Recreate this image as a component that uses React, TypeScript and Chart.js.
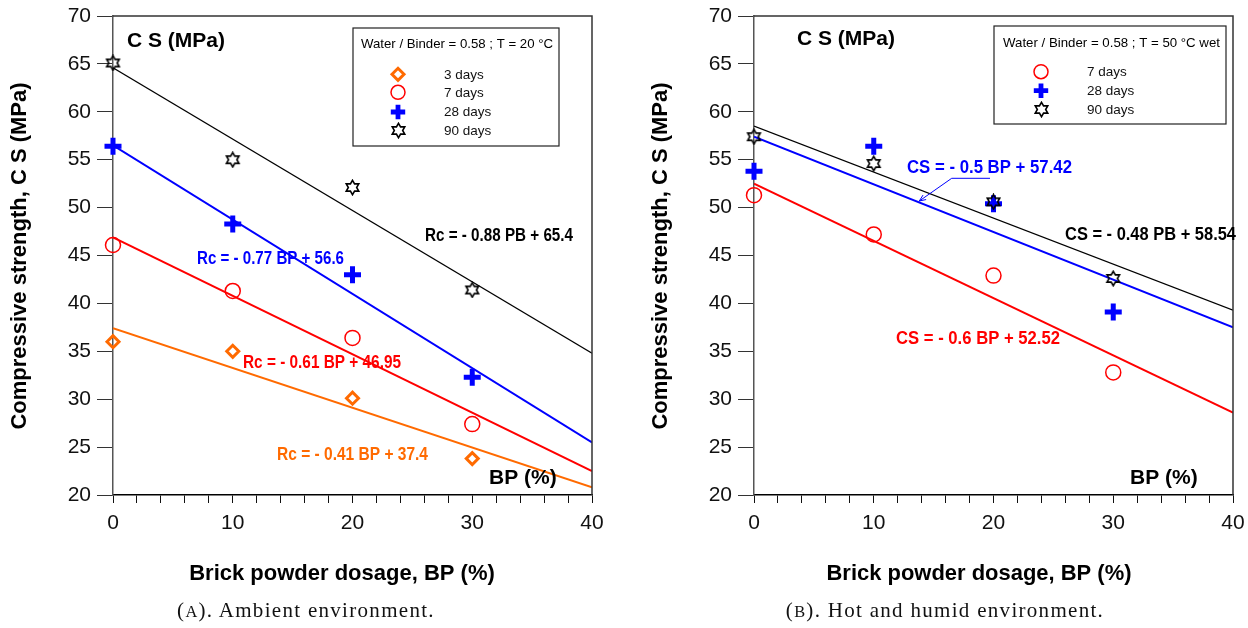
import React, { useEffect, useRef } from 'react';
import { Chart, registerables } from 'chart.js';

Chart.register(...registerables);

// ---------- data ----------
const bpDosage = [0, 10, 20, 30];
const fitX = [0, 40];
const xTickLabels = [0, 10, 20, 30, 40];
const yRange = [20, 70];

const ambient3Days = [36.0, 35.0, 30.1, 23.8];
const ambient7Days = [46.1, 41.3, 36.4, 27.4];
const ambient28Days = [56.4, 48.3, 43.0, 32.3];
const ambient90Days = [65.1, 55.0, 52.1, 41.4];
const ambientFit3 = [37.4, 20.8];
const ambientFit7 = [46.9, 22.5];
const ambientFit28 = [56.5, 25.5];
const ambientFit90 = [64.6, 34.8];

const hot7Days = [51.3, 47.2, 42.9, 32.8];
const hot28Days = [53.8, 56.4, 50.4, 39.1];
const hot90Days = [57.4, 54.6, 50.6, 42.6];
const hotFit7 = [52.5, 28.6];
const hotFit28 = [57.4, 37.5];
const hotFit90 = [58.5, 39.3];

// ---------- styles ----------
const ORANGE = '#ff6a00';
const RED = '#ff0000';
const BLUE = '#0000ff';
const BLACK = '#000000';
const FONT = '"Liberation Sans", Arial, sans-serif';

function makeHexagram(): HTMLCanvasElement {
  const c = document.createElement('canvas');
  c.width = 17;
  c.height = 17;
  const ctx = c.getContext('2d')!;
  const cx = 8.5, cy = 8.5, R = 7.2, r = 7.2 / Math.sqrt(3);
  ctx.beginPath();
  for (let k = 0; k < 12; k++) {
    const ang = (-90 + k * 30) * Math.PI / 180;
    const rad = k % 2 === 0 ? R : r;
    const px = cx + rad * Math.cos(ang);
    const py = cy + rad * Math.sin(ang);
    if (k === 0) ctx.moveTo(px, py); else ctx.lineTo(px, py);
  }
  ctx.closePath();
  ctx.strokeStyle = BLACK;
  ctx.lineWidth = 1.6;
  ctx.lineJoin = 'miter';
  ctx.stroke();
  return c;
}

type MarkerKind = 'diamond' | 'circle' | 'plus' | 'star';

function markerStyle(kind: MarkerKind, star: HTMLCanvasElement) {
  switch (kind) {
    case 'diamond':
      return { pointStyle: 'rectRot', pointRadius: 6, pointBorderWidth: 3, pointBorderColor: ORANGE, pointBackgroundColor: 'rgba(0,0,0,0)' };
    case 'circle':
      return { pointStyle: 'circle', pointRadius: 7.5, pointBorderWidth: 1.5, pointBorderColor: RED, pointBackgroundColor: 'rgba(0,0,0,0)' };
    case 'plus':
      return { pointStyle: 'cross', pointRadius: 8.5, pointBorderWidth: 5, pointBorderColor: BLUE, pointBackgroundColor: BLUE };
    default:
      return { pointStyle: star, pointRadius: 8, pointBorderWidth: 1, pointBorderColor: BLACK, pointBackgroundColor: 'rgba(0,0,0,0)' };
  }
}

function drawMarker(ctx: CanvasRenderingContext2D, kind: MarkerKind, x: number, y: number, star: HTMLCanvasElement) {
  ctx.save();
  if (kind === 'diamond') {
    const r = 6;
    ctx.beginPath();
    ctx.moveTo(x - r, y); ctx.lineTo(x, y - r); ctx.lineTo(x + r, y); ctx.lineTo(x, y + r); ctx.closePath();
    ctx.strokeStyle = ORANGE; ctx.lineWidth = 3; ctx.stroke();
  } else if (kind === 'circle') {
    ctx.beginPath(); ctx.arc(x, y, 7, 0, Math.PI * 2);
    ctx.strokeStyle = RED; ctx.lineWidth = 1.5; ctx.stroke();
  } else if (kind === 'plus') {
    const r = 7.2;
    ctx.beginPath();
    ctx.moveTo(x - r, y); ctx.lineTo(x + r, y); ctx.moveTo(x, y - r); ctx.lineTo(x, y + r);
    ctx.strokeStyle = BLUE; ctx.lineWidth = 4.8; ctx.stroke();
  } else {
    ctx.drawImage(star, Math.round(x - star.width / 2), Math.round(y - star.height / 2));
  }
  ctx.restore();
}

type TextItem = { text: string; x: number; y: number; size: number; color: string; maxW: number; align?: CanvasTextAlign; bold?: boolean };
type Series = { label: string; kind: MarkerKind; values: number[] };
type Fit = { color: string; width: number; values: number[] };
type PanelSpec = {
  offsetX: number;
  yAxisWidth: number;
  padRight: number;
  series: Series[];
  fits: Fit[];
  texts: TextItem[];
  yTitle: { text: string; x: number; y: number; maxW: number };
  legend: {
    box: [number, number, number, number];
    title: TextItem;
    markerX: number;
    textX: number;
    markerY: number[];
    baseY: number[];
  };
  arrow?: number[][];
};

const panelA: PanelSpec = {
  offsetX: 0,
  yAxisWidth: 113,
  padRight: 32,
  series: [
    { label: '90 days', kind: 'star', values: ambient90Days },
    { label: '28 days', kind: 'plus', values: ambient28Days },
    { label: '7 days', kind: 'circle', values: ambient7Days },
    { label: '3 days', kind: 'diamond', values: ambient3Days },
  ],
  fits: [
    { color: BLACK, width: 1.2, values: ambientFit90 },
    { color: BLUE, width: 2, values: ambientFit28 },
    { color: RED, width: 2, values: ambientFit7 },
    { color: ORANGE, width: 2, values: ambientFit3 },
  ],
  texts: [
    { text: 'C S (MPa)', x: 127, y: 46.5, size: 21, color: BLACK, maxW: 101, bold: true },
    { text: 'BP (%)', x: 489, y: 484, size: 21, color: BLACK, maxW: 70, bold: true },
    { text: 'Rc = - 0.88 PB + 65.4', x: 425, y: 241, size: 17.5, color: BLACK, maxW: 148, bold: true },
    { text: 'Rc = - 0.77 BP + 56.6', x: 197, y: 264, size: 17.5, color: BLUE, maxW: 147, bold: true },
    { text: 'Rc = - 0.61 BP + 46.95', x: 243, y: 368, size: 17.5, color: RED, maxW: 158, bold: true },
    { text: 'Rc = - 0.41 BP + 37.4', x: 277, y: 460, size: 17.5, color: ORANGE, maxW: 151, bold: true },
    { text: 'Brick powder dosage, BP (%)', x: 342, y: 580, size: 22, color: BLACK, maxW: 306, align: 'center', bold: true },
  ],
  yTitle: { text: 'Compressive strength, C S (MPa)', x: 20, y: 256, maxW: 348 },
  legend: {
    box: [353, 28, 559, 146],
    title: { text: 'Water / Binder = 0.58 ; T = 20 °C', x: 361, y: 48.3, size: 13.5, color: BLACK, maxW: 192 },
    markerX: 398,
    textX: 444,
    markerY: [74.3, 92.3, 112, 130],
    baseY: [79.3, 97.3, 116, 135],
  },
};

const panelB: PanelSpec = {
  offsetX: 624,
  yAxisWidth: 130,
  padRight: 15,
  series: [
    { label: '90 days', kind: 'star', values: hot90Days },
    { label: '28 days', kind: 'plus', values: hot28Days },
    { label: '7 days', kind: 'circle', values: hot7Days },
  ],
  fits: [
    { color: BLACK, width: 1.2, values: hotFit90 },
    { color: BLUE, width: 2, values: hotFit28 },
    { color: RED, width: 2, values: hotFit7 },
  ],
  texts: [
    { text: 'C S (MPa)', x: 797, y: 45, size: 21, color: BLACK, maxW: 101, bold: true },
    { text: 'BP (%)', x: 1130, y: 484, size: 21, color: BLACK, maxW: 70, bold: true },
    { text: 'CS = - 0.5 BP + 57.42', x: 907, y: 173, size: 17.5, color: BLUE, maxW: 165, bold: true },
    { text: 'CS = - 0.48 PB + 58.54', x: 1065, y: 240, size: 17.5, color: BLACK, maxW: 171, bold: true },
    { text: 'CS = - 0.6 BP + 52.52', x: 896, y: 344, size: 17.5, color: RED, maxW: 164, bold: true },
    { text: 'Brick powder dosage, BP (%)', x: 979, y: 580, size: 22, color: BLACK, maxW: 305, align: 'center', bold: true },
  ],
  yTitle: { text: 'Compressive strength, C S (MPa)', x: 661, y: 256, maxW: 348 },
  legend: {
    box: [994, 26, 1226, 124],
    title: { text: 'Water / Binder = 0.58 ; T = 50 °C wet', x: 1003, y: 46.7, size: 13.5, color: BLACK, maxW: 217 },
    markerX: 1041,
    textX: 1087,
    markerY: [71.7, 90.7, 109.3],
    baseY: [76, 95, 114],
  },
  arrow: [[990, 178.3], [951.7, 178.3], [919.3, 201]],
};

function drawText(ctx: CanvasRenderingContext2D, t: TextItem, ox: number) {
  ctx.save();
  ctx.font = `${t.bold ? 'bold ' : ''}${t.size}px ${FONT}`;
  ctx.fillStyle = t.color;
  ctx.textAlign = t.align || 'left';
  ctx.textBaseline = 'alphabetic';
  ctx.fillText(t.text, t.x - ox, t.y, t.maxW);
  ctx.restore();
}

function buildConfig(spec: PanelSpec, star: HTMLCanvasElement): any {
  const datasets: any[] = [];
  spec.series.forEach((s) => {
    datasets.push({
      label: s.label,
      data: bpDosage.map((x, i) => ({ x, y: s.values[i] })),
      showLine: false,
      clip: false,
      ...markerStyle(s.kind, star),
    });
  });
  spec.fits.forEach((f, i) => {
    datasets.push({
      label: 'fit' + i,
      data: fitX.map((x, k) => ({ x, y: f.values[k] })),
      showLine: true,
      borderColor: f.color,
      borderWidth: f.width,
      pointRadius: 0,
      fill: false,
      tension: 0,
    });
  });

  const ox = spec.offsetX;
  const decor = {
    id: 'panelDecor',
    afterDraw(chart: any) {
      const ctx: CanvasRenderingContext2D = chart.ctx;
      const { left, right, top, bottom } = chart.chartArea;
      ctx.save();
      // frame (top + right)
      ctx.strokeStyle = '#333';
      ctx.lineWidth = 1.5;
      ctx.beginPath();
      ctx.moveTo(left, top);
      ctx.lineTo(right, top);
      ctx.lineTo(right, bottom);
      ctx.stroke();

      // legend box
      const [bx1, by1, bx2, by2] = spec.legend.box;
      ctx.fillStyle = '#fff';
      ctx.fillRect(bx1 - ox, by1, bx2 - bx1, by2 - by1);
      ctx.strokeStyle = '#222';
      ctx.lineWidth = 1.2;
      ctx.strokeRect(bx1 - ox, by1, bx2 - bx1, by2 - by1);
      drawText(ctx, spec.legend.title, ox);
      const legendOrder = [...spec.series].reverse();
      legendOrder.forEach((s, i) => {
        drawMarker(ctx, s.kind, spec.legend.markerX - ox, spec.legend.markerY[i], star);
        drawText(ctx, { text: s.label, x: spec.legend.textX, y: spec.legend.baseY[i], size: 13.5, color: '#111', maxW: 60 }, ox);
      });

      // annotations
      spec.texts.forEach((t) => drawText(ctx, t, ox));

      // y title
      ctx.save();
      ctx.translate(spec.yTitle.x - ox, spec.yTitle.y);
      ctx.rotate(-Math.PI / 2);
      ctx.font = `bold 22px ${FONT}`;
      ctx.fillStyle = BLACK;
      ctx.textAlign = 'center';
      ctx.textBaseline = 'middle';
      ctx.fillText(spec.yTitle.text, 0, 0, spec.yTitle.maxW);
      ctx.restore();

      // arrow leader
      if (spec.arrow) {
        const pts = spec.arrow;
        ctx.strokeStyle = BLUE;
        ctx.lineWidth = 1;
        ctx.beginPath();
        pts.forEach((p, i) => (i === 0 ? ctx.moveTo(p[0] - ox, p[1]) : ctx.lineTo(p[0] - ox, p[1])));
        ctx.stroke();
        const a = pts[pts.length - 1];
        const b = pts[pts.length - 2];
        const ang = Math.atan2(a[1] - b[1], a[0] - b[0]);
        const L = 7;
        ctx.beginPath();
        ctx.moveTo(a[0] - ox - L * Math.cos(ang - 0.4), a[1] - L * Math.sin(ang - 0.4));
        ctx.lineTo(a[0] - ox, a[1]);
        ctx.lineTo(a[0] - ox - L * Math.cos(ang + 0.4), a[1] - L * Math.sin(ang + 0.4));
        ctx.stroke();
      }
      ctx.restore();
    },
  };

  return {
    type: 'scatter',
    data: { datasets },
    options: {
      animation: false,
      responsive: false,
      devicePixelRatio: 1,
      events: [],
      layout: { padding: { left: 0, top: 16, right: spec.padRight, bottom: 0 } },
      plugins: { legend: { display: false }, tooltip: { enabled: false }, title: { display: false } },
      scales: {
        x: {
          type: 'linear',
          min: fitX[0],
          max: fitX[1],
          afterFit: (scale: any) => {
            scale.height = 133;
            scale.paddingLeft = 0;
            scale.paddingRight = 0;
          },
          ticks: {
            stepSize: 2,
            autoSkip: false,
            maxRotation: 0,
            minRotation: 0,
            padding: 8,
            color: '#111',
            font: { family: FONT, size: 21 },
            callback: (v: number) => (xTickLabels.includes(v) ? String(v) : ''),
          },
          grid: { drawOnChartArea: false, drawTicks: true, tickLength: 8, color: '#111', lineWidth: 1 },
          border: { display: true, color: '#000', width: 1.5 },
        },
        y: {
          type: 'linear',
          min: yRange[0],
          max: yRange[1],
          afterFit: (scale: any) => {
            scale.width = spec.yAxisWidth;
            scale.paddingTop = 0;
            scale.paddingBottom = 0;
          },
          ticks: {
            stepSize: 5,
            padding: 6,
            color: '#111',
            font: { family: FONT, size: 21 },
          },
          grid: { drawOnChartArea: false, drawTicks: true, tickLength: 16, color: '#333', lineWidth: 1 },
          border: { display: true, color: '#555', width: 1.5 },
        },
      },
    },
    plugins: [decor],
  };
}

function Panel({ spec }: { spec: PanelSpec }) {
  const ref = useRef<HTMLCanvasElement>(null);
  useEffect(() => {
    const star = makeHexagram();
    const chart = new Chart(ref.current!, buildConfig(spec, star));
    return () => chart.destroy();
  }, [spec]);
  return (
    <canvas
      ref={ref}
      width={624}
      height={628}
      style={{ position: 'absolute', left: spec.offsetX, top: 0, width: 624, height: 628 }}
    />
  );
}

const captionStyle: React.CSSProperties = {
  position: 'absolute',
  top: 598,
  textAlign: 'center',
  fontFamily: '"Liberation Serif", "Times New Roman", serif',
  fontSize: 21,
  lineHeight: '24px',
  letterSpacing: '1.3px',
  color: '#111',
  whiteSpace: 'nowrap',
};

export default function App() {
  return (
    <div style={{ position: 'fixed', left: 0, top: 0, width: 1248, height: 628, background: '#fff', overflow: 'hidden' }}>
      <Panel spec={panelA} />
      <Panel spec={panelB} />
      <div style={{ ...captionStyle, left: 0, width: 612 }}>
        (<span style={{ fontSize: '0.78em' }}>A</span>). Ambient environment.
      </div>
      <div style={{ ...captionStyle, left: 640, width: 610 }}>
        (<span style={{ fontSize: '0.78em' }}>B</span>). Hot and humid environment.
      </div>
    </div>
  );
}
